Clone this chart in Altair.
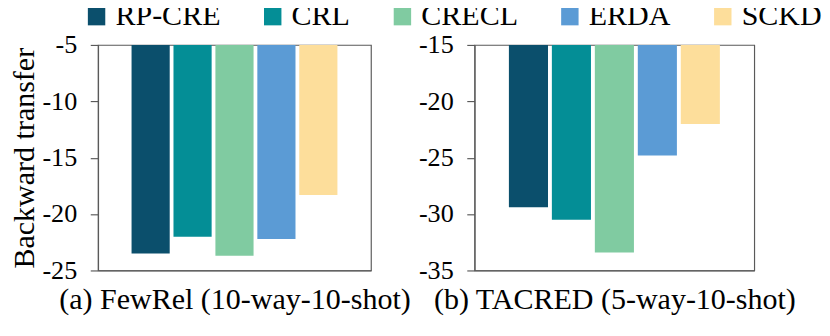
import altair as alt
import pandas as pd

methods = ["RP-CRE", "CRL", "CRECL", "ERDA", "SCKD"]
colors = ["#0B4F6C", "#048E96", "#80CBA1", "#5B9BD5", "#FDDE9B"]
fewrel_values = [-23.5, -22.0, -23.7, -22.2, -18.3]
tacred_values = [-29.4, -30.5, -33.4, -24.8, -22.0]
fewrel_ticks = [-5, -10, -15, -20, -25]
tacred_ticks = [-15, -20, -25, -30, -35]
panel_titles = ["(a) FewRel (10-way-10-shot)", "(b) TACRED (5-way-10-shot)"]
y_title = "Backward transfer"

FONT = "Liberation Serif"
FRAME = "#5a5a5a"


def panel(values, ticks, xtitle, width, ytitle=None):
    df = pd.DataFrame({"method": methods, "value": values})
    top = max(ticks)
    bottom = min(ticks)
    y_axis_kwargs = dict(values=ticks, labelExpr="datum.value", labelFont=FONT,
                         titleFont=FONT, labelFontSize=27, titleFontSize=31)
    y_axis_kwargs["title"] = ytitle if ytitle else None
    legend = alt.Legend(
        orient="none", legendX=-17, legendY=-45, direction="horizontal",
        title=None, symbolType="square", symbolSize=324, symbolStrokeWidth=0,
        labelFont=FONT, labelFontSize=31, labelColor="black", labelOffset=4,
        columnPadding=38, padding=0, symbolOpacity=1,
    )
    return alt.Chart(df).mark_bar().encode(
        x=alt.X("method:N", sort=methods,
                scale=alt.Scale(paddingInner=0.09, paddingOuter=0.8),
                axis=alt.Axis(labels=False, ticks=False, title=xtitle,
                              titlePadding=15, titleFontSize=31, titleFont=FONT)),
        y=alt.Y("value:Q", scale=alt.Scale(domain=[bottom, top], nice=False, zero=False),
                axis=alt.Axis(**y_axis_kwargs)),
        y2=alt.datum(top),
        color=alt.Color("method:N", sort=methods,
                        scale=alt.Scale(domain=methods, range=colors),
                        legend=legend),
    ).properties(width=width, height=233)


left = panel(fewrel_values, fewrel_ticks, panel_titles[0], 282, ytitle=y_title)
right = panel(tacred_values, tacred_ticks, panel_titles[1], 289)

chart = alt.hconcat(left, right, spacing=107, bounds="flush").properties(
    padding={"left": 0, "top": -12, "right": 0, "bottom": 0}
).configure_axis(
    labelColor="black", titleColor="black", titleFontWeight="normal",
    tickSize=8, labelPadding=14, titlePadding=2, grid=False,
    domainColor=FRAME, tickColor=FRAME, domainWidth=1.2, tickWidth=1.2,
).configure_view(stroke=FRAME, strokeWidth=1.2)

chart.save("out.html", embed_options={"renderer": "svg", "actions": False})
